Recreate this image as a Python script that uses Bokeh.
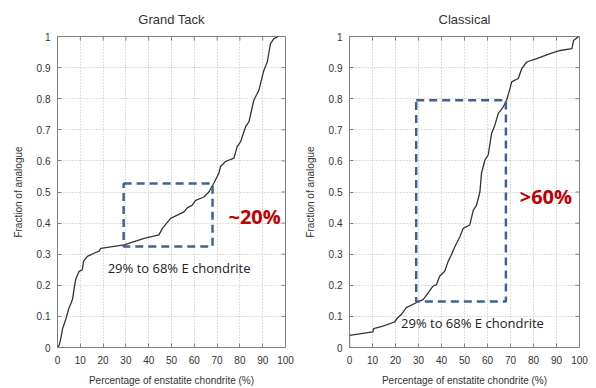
import math
from bokeh.plotting import figure
from bokeh.layouts import row
from bokeh.models import Range1d, FixedTicker, Label
from bokeh.embed import file_html
from bokeh.resources import INLINE

# ---------------- data ----------------
titles = ["Grand Tack", "Classical"]

gt_x = [0, 0.7, 1.5, 2.2, 3.6, 5.1, 5.8, 6.6, 7.3, 8.0, 9.5, 10.9, 11.4, 13.1, 16, 18.2, 19,
        29.2, 38, 44.5, 46, 49.6, 55.5, 57, 59, 60.6, 64.2, 66.4, 68.6, 70.8, 71.5, 73.7,
        77.4, 78.8, 80.3, 82.5, 84, 86.1, 88.3, 90.5, 92, 93.4, 94.9, 96.8]
gt_y = [0, 0.007, 0.03, 0.06, 0.09, 0.128, 0.14, 0.155, 0.19, 0.22, 0.245, 0.25, 0.277, 0.293,
        0.303, 0.31, 0.319, 0.33, 0.351, 0.362, 0.383, 0.415, 0.436, 0.45, 0.457, 0.473, 0.484,
        0.5, 0.529, 0.561, 0.582, 0.598, 0.609, 0.646, 0.662, 0.71, 0.726, 0.795, 0.827, 0.891,
        0.918, 0.976, 0.993, 1.0]

cl_x = [0, 0, 10.2, 10.5, 14.5, 19.6, 21, 22.5, 24.7, 29, 32, 34.2, 36.3, 37.8, 39.2, 41.4,
        42.9, 44.3, 45.8, 48, 49.4, 52.3, 53.8, 55.2, 56.7, 57.4, 58.9, 60.3, 61.8, 63.2, 64.7,
        66.9, 68.3, 69.8, 70.5, 73.4, 74.9, 77, 81.4, 87.2, 91.6, 96.7, 97.4, 99.6]
cl_y = [0, 0.039, 0.05, 0.061, 0.069, 0.082, 0.096, 0.106, 0.128, 0.144, 0.154, 0.176, 0.197,
        0.202, 0.229, 0.245, 0.277, 0.298, 0.324, 0.356, 0.383, 0.394, 0.441, 0.457, 0.5, 0.561,
        0.603, 0.619, 0.689, 0.715, 0.753, 0.774, 0.795, 0.833, 0.854, 0.865, 0.897, 0.918,
        0.929, 0.945, 0.955, 0.961, 0.987, 1.0]

# boxes: left, right, bottom, top
box_left = [29, 29]
box_right = [68, 68]
box_bottom = [0.325, 0.148]
box_top = [0.527, 0.795]

big_labels = ["~20%", ">60%"]
big_label_x = [75, 74]
big_label_y = [0.42, 0.487]

range_labels = ["29% to 68% E chondrite", "29% to 68% E chondrite"]
range_label_x = [22.0, 22.4]
range_label_y = [0.256, 0.08]

x_ticks = [0, 10, 20, 30, 40, 50, 60, 70, 80, 90, 100]
x_tick_labels = ["0", "10", "20", "30", "40", "50", "60", "70", "80", "90", "100"]
y_ticks = [0, 0.1, 0.2, 0.3, 0.4, 0.5, 0.6, 0.7, 0.8, 0.9, 1.0]
y_tick_labels = ["0", "0.1", "0.2", "0.3", "0.4", "0.5", "0.6", "0.7", "0.8", "0.9", "1"]

x_label = "Percentage of enstatite chondrite (%)"
y_label = "Fraction of analogue"

X_MIN, X_MAX = 0, 100
Y_MIN, Y_MAX = 0, 1

FONT = "Liberation Sans"
TXT = "#333333"
AX = "#808080"


def make(i, xs, ys, width, bl, br):
    p = figure(width=width, height=388, output_backend="svg", toolbar_location=None,
               x_range=Range1d(X_MIN, X_MAX), y_range=Range1d(Y_MIN, Y_MAX),
               min_border_left=bl, min_border_right=br, min_border_top=36, min_border_bottom=40)
    p.title.text = titles[i]
    p.title.align = "center"
    p.title.text_font = FONT
    p.title.text_font_size = "13px"
    p.title.text_font_style = "normal"
    p.title.text_color = TXT
    p.title.standoff = 19
    p.background_fill_color = "white"
    p.border_fill_color = "white"
    p.outline_line_color = AX
    p.outline_line_width = 1

    xt = FixedTicker(ticks=x_ticks, minor_ticks=[])
    yt = FixedTicker(ticks=y_ticks, minor_ticks=[])
    for ax in p.xaxis:
        ax.ticker = xt
        ax.major_label_overrides = dict(zip(x_ticks, x_tick_labels))
        ax.axis_label = x_label
        ax.axis_label_standoff = 8
        ax.major_label_standoff = 8
    for ax in p.yaxis:
        ax.ticker = yt
        ax.major_label_overrides = dict(zip(y_ticks, y_tick_labels))
        ax.axis_label = y_label
        ax.axis_label_standoff = 10
        ax.major_label_standoff = 7
    for ax in p.xaxis + p.yaxis:
        ax.major_tick_in = 4
        ax.major_tick_out = 0
        ax.minor_tick_line_color = None
        ax.axis_line_color = AX
        ax.major_tick_line_color = AX
        ax.major_label_text_font = FONT
        ax.major_label_text_font_size = "10px"
        ax.major_label_text_color = TXT
        ax.axis_label_text_font = FONT
        ax.axis_label_text_font_size = "10px"
        ax.axis_label_text_font_style = "normal"
        ax.axis_label_text_color = TXT

    p.xgrid.ticker = xt
    p.ygrid.ticker = yt
    for g in (p.xgrid, p.ygrid):
        g.grid_line_color = "#bbbbbb"
        g.grid_line_dash = "1 2"
        g.grid_line_width = 1

    # mirror tick marks on the top and right edges (clipped to frame -> inward half only)
    p.scatter(x=x_ticks, y=[Y_MAX] * len(x_ticks), marker="dash", angle=math.pi / 2,
              size=8, line_color=AX, line_width=1)
    p.scatter(x=[X_MAX] * len(y_ticks), y=y_ticks, marker="dash", angle=0,
              size=8, line_color=AX, line_width=1)

    p.line(xs, ys, line_color="#333333", line_width=1.3)

    p.quad(left=[box_left[i]], right=[box_right[i]], bottom=[box_bottom[i]], top=[box_top[i]],
           fill_alpha=0, line_color="#41628f", line_width=2.5, line_dash="8 5")

    p.add_layout(Label(x=big_label_x[i], y=big_label_y[i], text=big_labels[i],
                       text_font="Open Sans", text_font_size="20px", text_font_style="bold",
                       text_color="#c00000", text_baseline="middle", text_align="left"))
    p.add_layout(Label(x=range_label_x[i], y=range_label_y[i], text=range_labels[i],
                       text_font="Open Sans", text_font_size="13px", text_color="#222222",
                       text_baseline="middle", text_align="left"))
    return p


p1 = make(0, gt_x, gt_y, 296, 57, 11)
p2 = make(1, cl_x, cl_y, 300, 53, 17)
layout = row(p1, p2)

open("out.html", "w").write(file_html(layout, INLINE))
